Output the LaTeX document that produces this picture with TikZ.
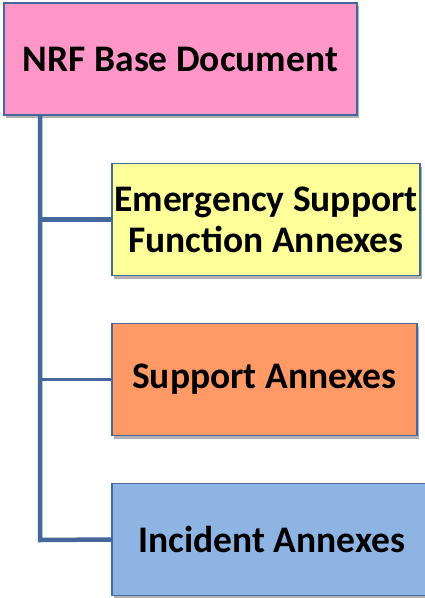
\documentclass[tikz,border=0pt]{standalone}
\usepackage{fontspec}
\setmainfont{Carlito}
\usetikzlibrary{shadows}
\definecolor{rootpink}{HTML}{FF96C8}
\definecolor{esfyellow}{HTML}{FFFF99}
\definecolor{suporange}{HTML}{FF9966}
\definecolor{incblue}{HTML}{8EB4E3}
\definecolor{edgeblue}{HTML}{44689C}
\begin{document}
\begin{tikzpicture}[x=1pt, y=1pt,
    every node/.style={font=\fontsize{37.5}{41}\selectfont\bfseries, align=center},
    doc/.style={rectangle, draw=edgeblue, line width=1.8pt, inner sep=0pt,
                minimum height=112pt,
                drop shadow={shadow xshift=2pt, shadow yshift=-3pt, fill=black, opacity=.3}},
    link/.style={edgeblue, line width=4.5pt},
]
    \useasboundingbox (0, 0) rectangle (424, -598);
    \coordinate (trunk) at (40, -540);
    \node[doc, fill=rootpink, minimum width=353pt] (root) at (180.5, -59) {NRF Base Document};
    \node[doc, fill=esfyellow, minimum width=308pt] (esf) at (266, -219.5) {Emergency Support\\Function Annexes};
    \node[doc, fill=suporange, minimum width=305pt] (sup) at (264.5, -379.5) {Support Annexes};
    \node[doc, fill=incblue, minimum width=320pt] (inc) at (272, -539.5) {Incident Annexes};
    \draw[link, line join=miter] (root.south -| trunk) -- (trunk) -- (inc.west);
    \draw[link] (esf.west -| trunk) -- (esf.west);
    \draw[link, line width=2.5pt] (sup.west -| trunk) -- (sup.west);
\end{tikzpicture}
\end{document}
